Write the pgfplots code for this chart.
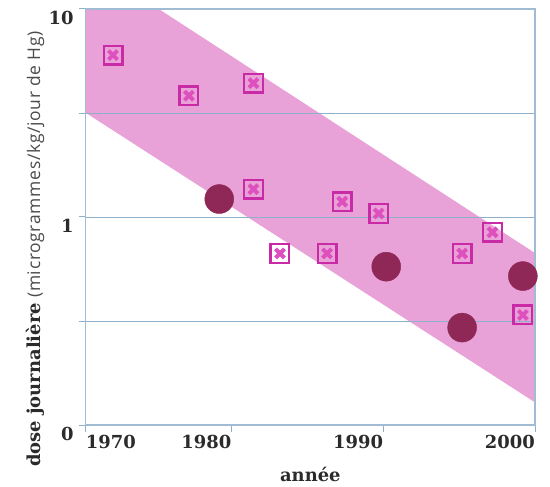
\documentclass[border=0pt]{standalone}
\usepackage{fontspec}
\usepackage{pgfplots}
\pgfplotsset{compat=1.18}
\usetikzlibrary{calc}
\newfontfamily\bserif{DejaVu Serif}
\newfontfamily\lsans{Open Sans}[LetterSpace=4]
\definecolor{band}{HTML}{E9A2D8}
\definecolor{dark}{HTML}{8F2757}
\definecolor{magline}{HTML}{C92AA6}
\definecolor{magx}{HTML}{DE50BE}
\definecolor{gridc}{HTML}{8FAFCB}
\definecolor{txt}{HTML}{2B2B2B}

\pgfdeclareplotmark{xsq}{%
 \pgfsetlinewidth{2.4bp}%
 \pgfsetstrokecolor{magline}%
 \pgfsetcornersarced{\pgfpoint{3.5bp}{3.5bp}}%
 \pgfpathmoveto{\pgfqpoint{-9.3bp}{0bp}}%
 \pgfpathlineto{\pgfqpoint{-9.3bp}{9.3bp}}%
 \pgfpathlineto{\pgfqpoint{9.3bp}{9.3bp}}%
 \pgfpathlineto{\pgfqpoint{9.3bp}{-9.3bp}}%
 \pgfpathlineto{\pgfqpoint{-9.3bp}{-9.3bp}}%
 \pgfpathclose
 \pgfusepathqstroke
 \pgfsetcornersarced{\pgfpointorigin}%
 \pgfsetlinewidth{4bp}%
 \pgfsetstrokecolor{magx}%
 \pgfpathmoveto{\pgfqpoint{-4.5bp}{-4.5bp}}\pgfpathlineto{\pgfqpoint{4.5bp}{4.5bp}}%
 \pgfpathmoveto{\pgfqpoint{-4.5bp}{4.5bp}}\pgfpathlineto{\pgfqpoint{4.5bp}{-4.5bp}}%
 \pgfusepathqstroke
}

\begin{document}
\begin{tikzpicture}
\begin{axis}[
  set layers, clip mode=individual,
  scale only axis, width=449.3bp, height=416bp,
  xmin=1970.4, xmax=2000,
  ymode=log, ymin=0.1, ymax=10,
  ytick={0.1,0.31623,1,3.1623,10},
  yticklabels={0,,1,,10},
  xtick={1980,1990,2000},
  xticklabels={1980,1990,2000},
  extra x ticks={1970.4},
  extra x tick labels={1970},
  extra x tick style={xticklabel style={anchor=north west, xshift=0bp}},
  ymajorgrids=true,
  grid style={color=gridc, line width=0.9bp},
  major grid style={color=gridc, line width=0.9bp},
  minor tick num=0, yminorticks=false,
  tick align=outside, major tick length=7bp,
  xtick pos=bottom, ytick pos=left,
  major tick style={color=gridc, line width=1bp},
  tick style={color=gridc, line width=1bp},
  axis line style={color=gridc!85, line width=1.1bp},
  ticklabel style={font=\bserif\bfseries\fontsize{18}{18}\selectfont, text=txt, inner sep=0pt},
  yticklabel style={anchor=north east, xshift=-5bp, yshift=-2bp},
  xticklabel style={anchor=north east, yshift=-3bp},
  xlabel={année},
  xlabel style={font=\bserif\bfseries\fontsize{18}{18}\selectfont, text=txt, at={(axis description cs:0.5,0)}, anchor=base, yshift=-56bp, inner sep=0pt},
  ylabel={{\bserif\bfseries\fontsize{18}{18}\selectfont dose journalière} {\lsans\color{txt!85}(microgrammes/kg/jour de Hg)}},
  ylabel style={font=\fontsize{17.5}{17.5}\selectfont, text=txt, at={(axis description cs:-0.1017,-0.101)}, anchor=base west, rotate=0, inner sep=0pt},
]
\addplot[fill=band, draw=none, on layer=axis background] coordinates {
 (1970.4,16.9) (2000,0.671) (2000,0.1285) (1970.4,3.17) (1970.4,16.9)};
\addplot[only marks, mark=*, mark size=14.5bp, color=dark, mark options={draw=none, fill=dark}] coordinates {
 (1979.2,1.22) (1990.2,0.577) (1995.2,0.294) (1999.2,0.520)};
\addplot[only marks, mark=xsq] coordinates {
 (1972.2,6.0) (1977.2,3.83) (1981.45,4.40) (1981.45,1.36) (1983.2,0.668) (1986.3,0.668)
 (1987.3,1.185) (1989.7,1.04) (1995.2,0.668) (1997.2,0.844) (1999.2,0.338)};
\end{axis}
\pgfresetboundingbox
\path[use as bounding box] ($(current axis.south west)+(-85.7bp,-62bp)$) rectangle ($(current axis.north east)+(15bp,9bp)$);
\end{tikzpicture}
\end{document}
